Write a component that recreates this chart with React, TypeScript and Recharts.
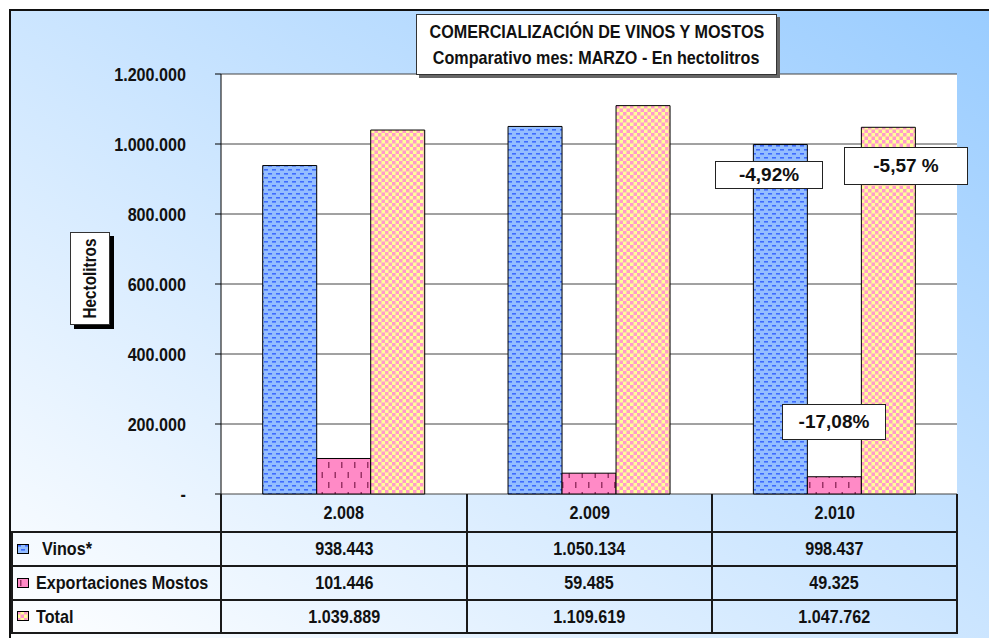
import { BarChart, Bar, XAxis, YAxis, CartesianGrid } from 'recharts';

const years = ['2.008', '2.009', '2.010'];
const vinos = [938443, 1050134, 998437];
const mostos = [101446, 59485, 49325];
const total = [1039889, 1109619, 1047762];
const yTicks = [0, 200000, 400000, 600000, 800000, 1000000, 1200000];

const seriesNames = ['Vinos*', 'Exportaciones Mostos', 'Total'];
const notes = ['-4,92%', '-5,57 %', '-17,08%'];

const data = years.map((y, i) => ({ year: y, vinos: vinos[i], mostos: mostos[i], total: total[i] }));

const W = 989;
const H = 638;
const SANS = "'Liberation Sans', Arial, sans-serif";
const SQUEEZE = 0.85; // no Arial Narrow installed: squeeze Arial metrics

const fmt = (n: number) => (n === 0 ? '-' : String(n).replace(/\B(?=(\d{3})+(?!\d))/g, '.'));

// narrow-looking html text
function N({ children, origin = 'center' }: { children: any; origin?: string }) {
  return (
    <span style={{ display: 'inline-block', whiteSpace: 'nowrap', transform: `scaleX(${SQUEEZE})`, transformOrigin: origin, flex: 'none' }}>{children}</span>
  );
}

function Patterns({ suffix }: { suffix: string }) {
  return (
    <defs>
      <pattern id={`pv${suffix}`} width="8" height="8" patternUnits="userSpaceOnUse">
        <rect width="8" height="8" fill="#94BEFF" />
        <rect x="0" y="1" width="4" height="1.6" fill="#3D6BFF" />
        <rect x="4" y="5" width="4" height="1.6" fill="#3D6BFF" />
      </pattern>
      <pattern id={`pm${suffix}`} width="13" height="20" patternUnits="userSpaceOnUse">
        <rect width="13" height="20" fill="#FF8AC6" />
        <rect x="3" y="2" width="1.5" height="6" fill="#993366" />
        <rect x="9.5" y="12" width="1.5" height="6" fill="#993366" />
      </pattern>
      <pattern id={`pt${suffix}`} width="7" height="7" patternUnits="userSpaceOnUse">
        <rect width="7" height="7" fill="#FFFF99" />
        <rect x="0" y="0" width="3.5" height="3.5" fill="#FF99CC" />
        <rect x="3.5" y="3.5" width="3.5" height="3.5" fill="#FF99CC" />
      </pattern>
    </defs>
  );
}

function YTick(props: any) {
  const { x, y, payload } = props;
  return (
    <text transform={`translate(${x},${y}) scale(${SQUEEZE},1)`} textAnchor="end" dy="0.35em" fill="#111" fontSize={19} fontWeight="bold" fontFamily={SANS}>
      {fmt(payload.value)}
    </text>
  );
}

const keyIds = ['pv', 'pm', 'pt'];
const cols = [221, 467, 712, 957];
const rowsY = [494, 532, 566, 600, 633];
const seriesValues = [vinos, mostos, total];

function DataTable() {
  const line = '#1a1a1a';
  const cells: any[] = [];
  const cellStyle = (left: number, top: number, width: number, height: number): any => ({
    position: 'absolute', left, top, width, height, display: 'flex', alignItems: 'center', justifyContent: 'center',
  });
  years.forEach((y, i) => {
    cells.push(
      <div key={`h${i}`} style={cellStyle(cols[i], rowsY[0], cols[i + 1] - cols[i], rowsY[1] - rowsY[0])}>
        <N>{y}</N>
      </div>
    );
  });
  seriesValues.forEach((vals, r) => {
    cells.push(
      <div key={`l${r}`} style={{ position: 'absolute', left: 14, top: rowsY[r + 1], width: cols[0] - 14, height: rowsY[r + 2] - rowsY[r + 1], display: 'flex', alignItems: 'center', whiteSpace: 'nowrap' }}>
        <svg width="13" height="11" style={{ marginLeft: 3, marginRight: r === 0 ? 12 : 6, flex: 'none' }}>
          <Patterns suffix={`k${r}`} />
          <rect x="0.5" y="0.5" width="11" height="9" fill={`url(#${keyIds[r]}k${r})`} stroke="#000" strokeWidth="1" />
        </svg>
        <N origin="left">{seriesNames[r]}</N>
      </div>
    );
    vals.forEach((v, i) => {
      cells.push(
        <div key={`c${r}${i}`} style={cellStyle(cols[i], rowsY[r + 1], cols[i + 1] - cols[i], rowsY[r + 2] - rowsY[r + 1])}>
          <N>{fmt(v)}</N>
        </div>
      );
    });
  });
  const lines: any[] = [];
  cols.forEach((x, i) => lines.push(<div key={`v${i}`} style={{ position: 'absolute', left: x - 1, top: rowsY[0], width: 2, height: rowsY[4] - rowsY[0], background: line }} />));
  lines.push(<div key="vl" style={{ position: 'absolute', left: 11, top: rowsY[1], width: 2, height: rowsY[4] - rowsY[1], background: line }} />);
  rowsY.slice(1).forEach((y, i) => lines.push(<div key={`hl${i}`} style={{ position: 'absolute', left: 11, top: y - 1, width: cols[3] - 10, height: 2, background: line }} />));
  return (
    <div style={{ position: 'absolute', left: 0, top: 0, fontFamily: SANS, fontSize: 19, fontWeight: 'bold', color: '#111' }}>
      {cells}
      {lines}
    </div>
  );
}

const boxStyle = (left: number, top: number, width: number, height: number): any => ({
  position: 'absolute', left, top, width, height, background: '#fff', border: '1px solid #222', boxSizing: 'border-box',
  display: 'flex', alignItems: 'center', justifyContent: 'center', fontFamily: SANS, fontWeight: 'bold', fontSize: 19, color: '#111',
});

export default function App() {
  return (
    <div style={{ position: 'absolute', left: 0, top: 0, width: W, height: H, background: '#fff', overflow: 'hidden' }}>
      <div style={{ position: 'absolute', left: 9, top: 9, width: W, height: H, borderLeft: '2px solid #111', borderTop: '2px solid #111', background: 'linear-gradient(to top right, #ffffff 0%, #99ccff 100%)' }} />
      <div style={{ position: 'absolute', left: 0, top: 0 }}>
        <BarChart width={W} height={H} data={data} margin={{ top: 74, right: 32, bottom: 144, left: 0 }} barCategoryGap="17%" barGap={0}>
          <Patterns suffix="" />
          <CartesianGrid vertical={false} stroke="#444" fill="#fff" fillOpacity={1} />
          <XAxis dataKey="year" hide />
          <YAxis
            width={221}
            domain={[0, 1200000]}
            ticks={yTicks}
            interval={0}
            tickSize={6}
            tickMargin={29}
            axisLine={{ stroke: '#000' }}
            tickLine={{ stroke: '#000' }}
            tick={<YTick />}
          />
          <YAxis yAxisId="r" orientation="right" width={0} domain={[0, 1200000]} tick={false} tickLine={false} axisLine={{ stroke: '#888' }} />
          <Bar dataKey="vinos" fill="url(#pv)" stroke="#000" strokeWidth={1} isAnimationActive={false} />
          <Bar dataKey="mostos" fill="url(#pm)" stroke="#000" strokeWidth={1} isAnimationActive={false} />
          <Bar dataKey="total" fill="url(#pt)" stroke="#000" strokeWidth={1} isAnimationActive={false} />
        </BarChart>
      </div>
      <DataTable />
      <div style={{ position: 'absolute', left: 416, top: 14, width: 361, height: 61, background: '#fff', border: '1px solid #333', boxShadow: '3px 3px 0 #666', fontFamily: SANS, fontSize: 19, fontWeight: 'bold', color: '#111', lineHeight: '26px', paddingTop: 4, boxSizing: 'border-box', display: 'flex', flexDirection: 'column', alignItems: 'center' }}>
        <N>COMERCIALIZACIÓN DE VINOS Y MOSTOS</N>
        <N>Comparativo mes: MARZO - En hectolitros</N>
      </div>
      <div style={{ position: 'absolute', left: 70, top: 232, width: 40, height: 93, background: '#fff', border: '1px solid #333', boxShadow: '4px 4px 0 #000', boxSizing: 'border-box' }}>
        <svg width="38" height="91" style={{ display: 'block' }}>
          <text transform={`translate(19,45.5) rotate(-90) scale(${SQUEEZE},1)`} textAnchor="middle" dy="0.35em" fontFamily={SANS} fontSize={18} fontWeight="bold" fill="#111">Hectolitros</text>
        </svg>
      </div>
      <div style={boxStyle(715, 161, 108, 28)}>{notes[0]}</div>
      <div style={boxStyle(844, 147, 124, 38)}>{notes[1]}</div>
      <div style={boxStyle(782, 404, 104, 36)}>{notes[2]}</div>
    </div>
  );
}
